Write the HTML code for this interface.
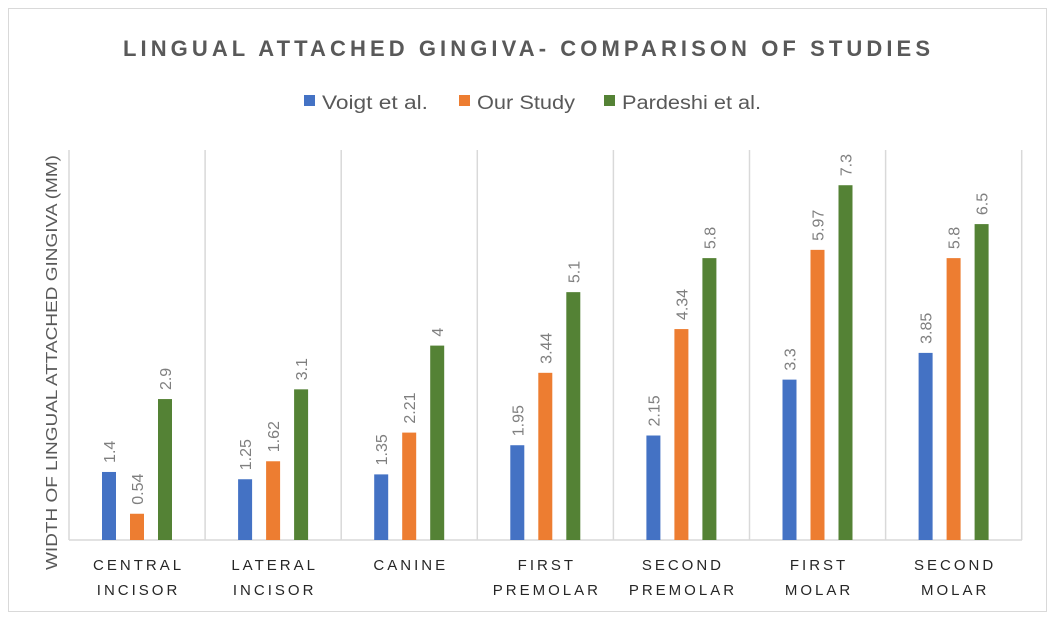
<!DOCTYPE html>
<html><head><meta charset="utf-8"><style>
body{margin:0;background:#fff}
svg{display:block;font-family:"Liberation Sans",sans-serif}
</style></head><body>
<svg width="1052" height="618" viewBox="0 0 1052 618">
<rect x="0" y="0" width="1052" height="618" fill="#fff"/>
<rect x="8.5" y="8.5" width="1038" height="603" fill="none" stroke="#d9d9d9"/>
<text x="123" y="56" font-size="22" font-weight="bold" fill="#595959" textLength="807" lengthAdjust="spacing">LINGUAL ATTACHED GINGIVA- COMPARISON OF STUDIES</text>
<g font-size="19" fill="#595959">
<rect x="304" y="95" width="11" height="11" fill="#4472c4"/><text x="322" y="109" textLength="106" lengthAdjust="spacingAndGlyphs">Voigt et al.</text>
<rect x="459" y="95" width="11" height="11" fill="#ed7d31"/><text x="477" y="109" textLength="98" lengthAdjust="spacingAndGlyphs">Our Study</text>
<rect x="604" y="95" width="11" height="11" fill="#548235"/><text x="622" y="109" textLength="139" lengthAdjust="spacingAndGlyphs">Pardeshi et al.</text>
</g>
<text transform="translate(57,570) rotate(-90)" font-size="16" fill="#595959" textLength="415" lengthAdjust="spacingAndGlyphs">WIDTH OF LINGUAL ATTACHED GINGIVA (MM)</text>
<g id="c"></g>
</svg>
<script>
const d=[[1.4,.54,2.9],[1.25,1.62,3.1],[1.35,2.21,4],[1.95,3.44,5.1],[2.15,4.34,5.8],[3.3,5.97,7.3],[3.85,5.8,6.5]];
const cat=[["CENTRAL","INCISOR"],["LATERAL","INCISOR"],["CANINE"],["FIRST","PREMOLAR"],["SECOND","PREMOLAR"],["FIRST","MOLAR"],["SECOND","MOLAR"]];
const col=["#4472c4","#ed7d31","#548235"];
let s="";const w=136.1,b=540,k=48.6;
for(let i=0;i<=7;i++){const x=69+i*w;s+=`<line x1="${x}" y1="150" x2="${x}" y2="${b}" stroke="#d9d9d9" stroke-width="1.5"/>`;}
s+=`<line x1="69" y1="${b}" x2="1022" y2="${b}" stroke="#d9d9d9" stroke-width="1.5"/>`;
d.forEach((g,i)=>{const gl=69+i*w;g.forEach((v,j)=>{const x=gl+33+j*28,h=v*k;s+=`<rect x="${x}" y="${b-h}" width="14" height="${h}" fill="${col[j]}"/>`;
s+=`<text transform="translate(${x+13},${b-h-9}) rotate(-90)" font-size="16" fill="#7f7f7f">${v}</text>`;});
cat[i].forEach((t,l)=>{s+=`<text x="${gl+w/2+1.5}" y="${570+l*25}" text-anchor="middle" font-size="15" letter-spacing="3" fill="#262626">${t}</text>`;});});
document.getElementById("c").innerHTML=s;
</script>
</body></html>
